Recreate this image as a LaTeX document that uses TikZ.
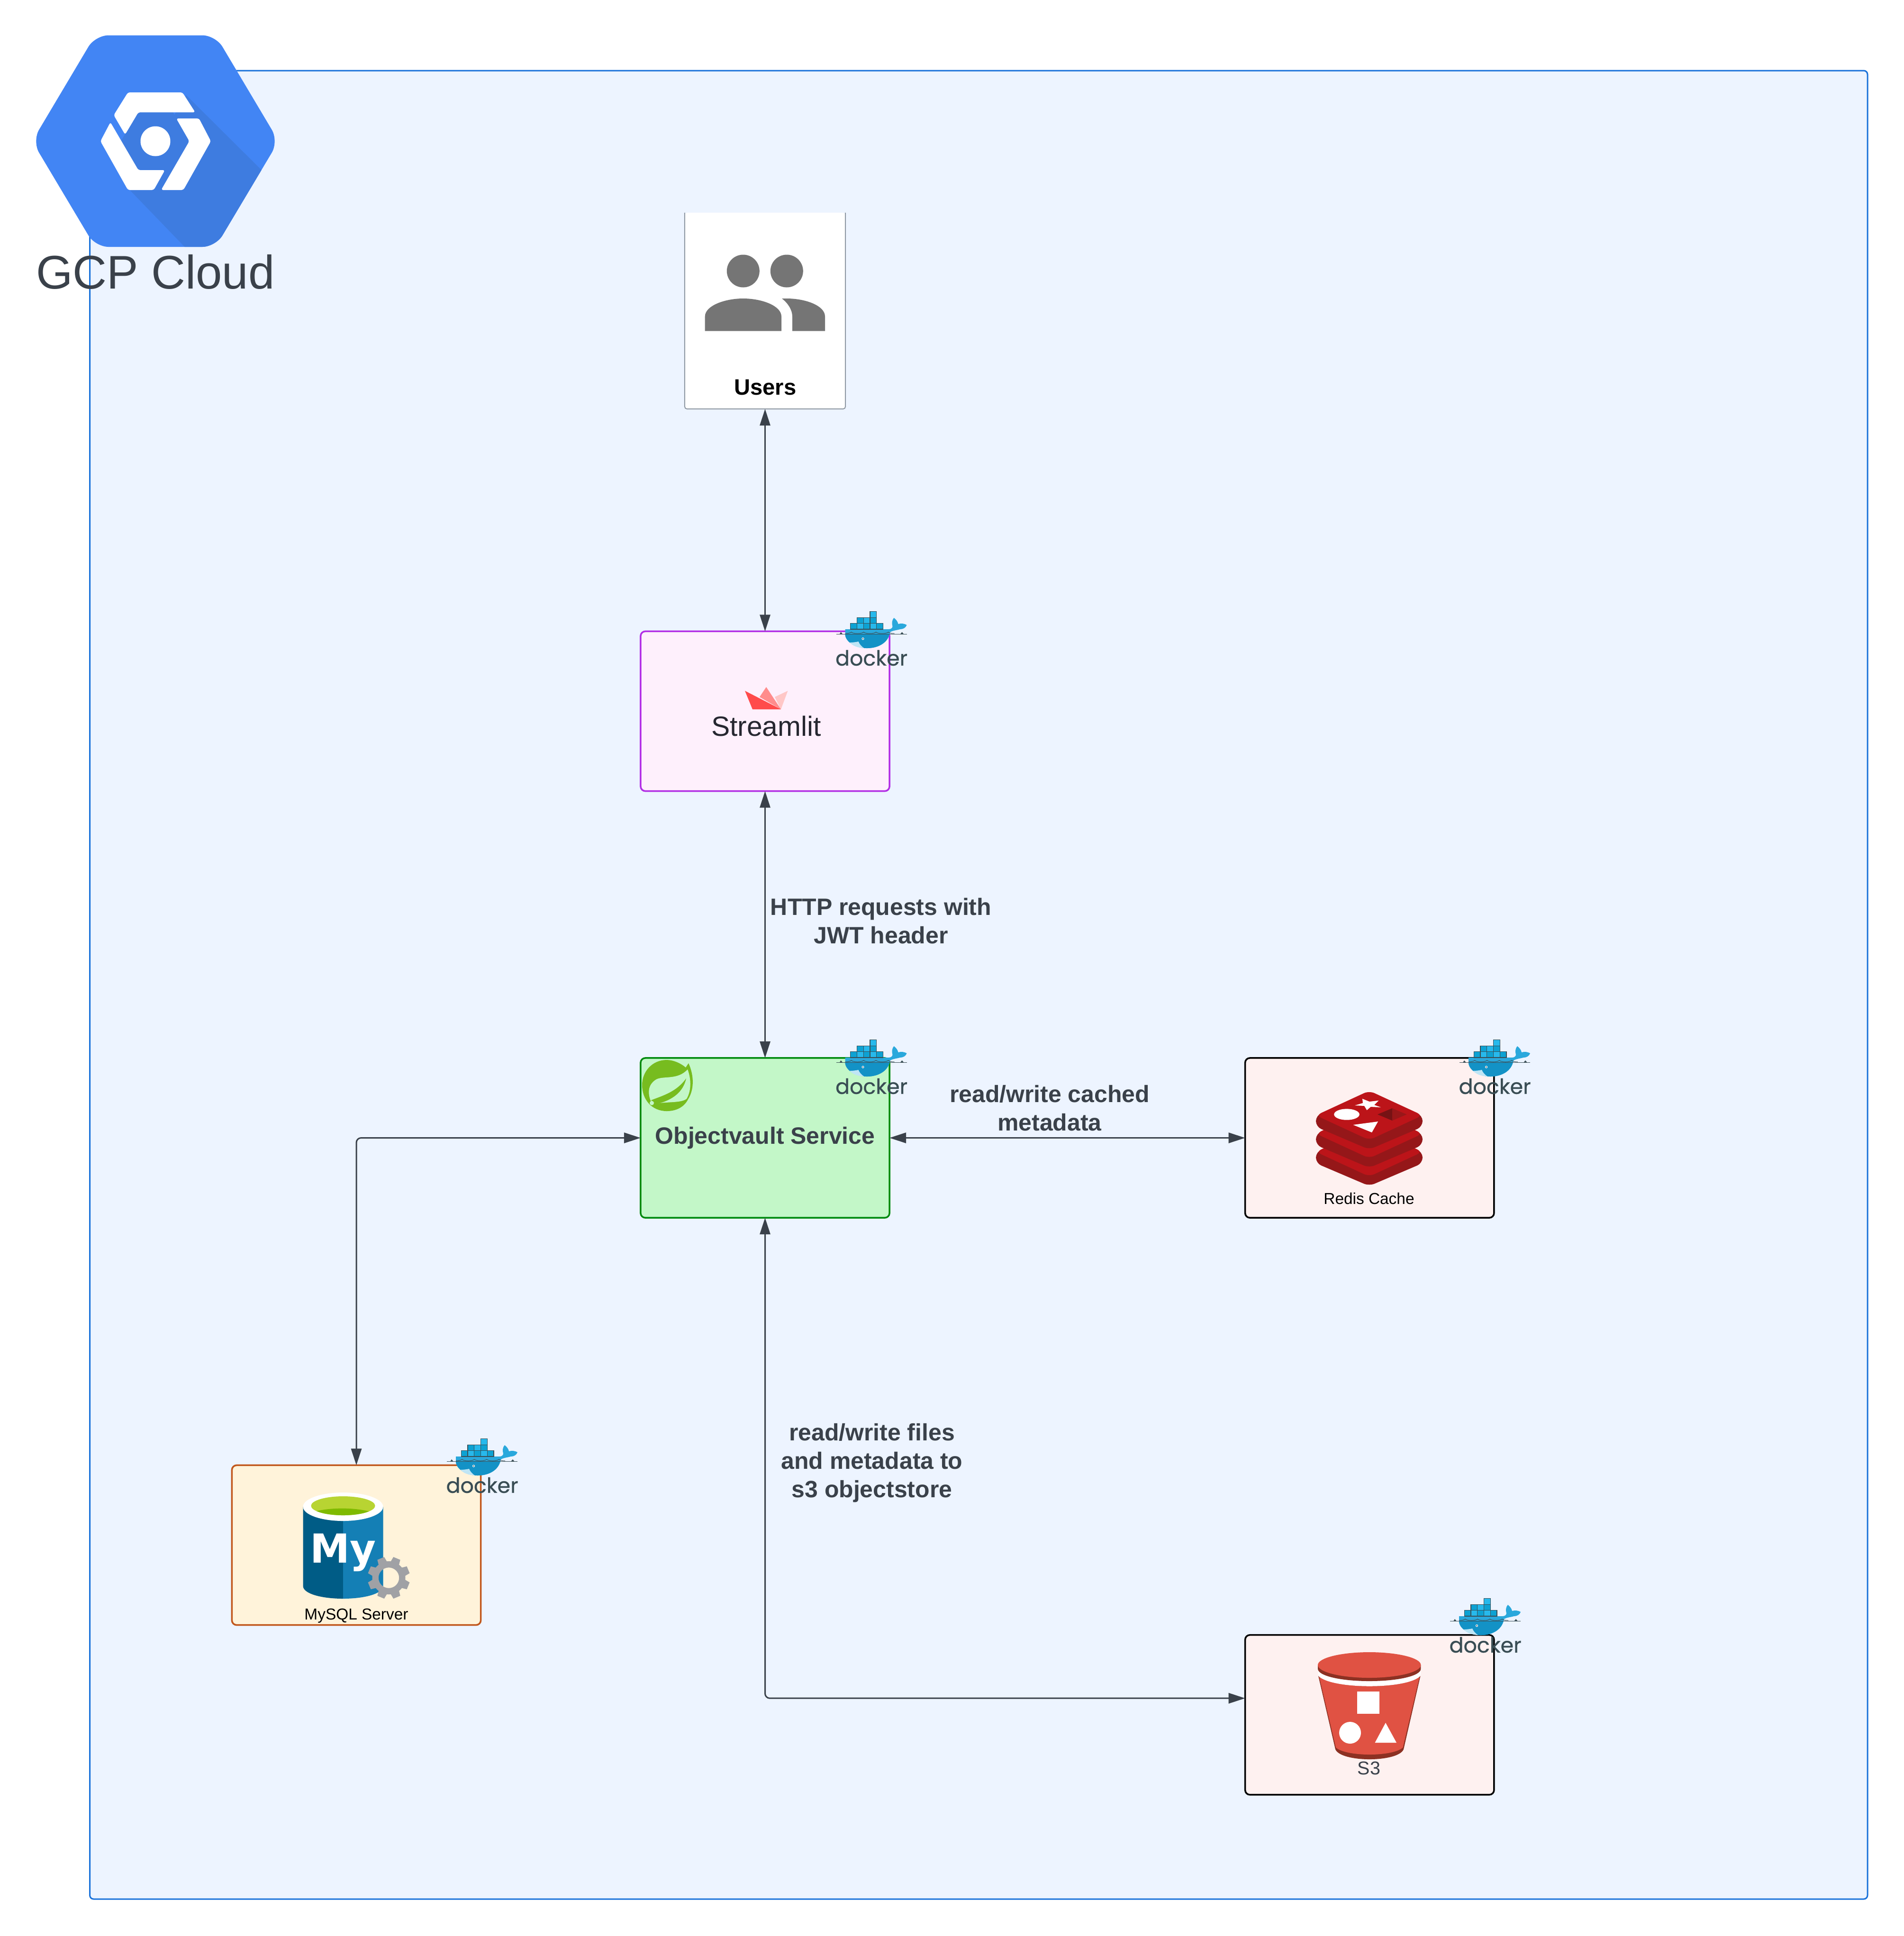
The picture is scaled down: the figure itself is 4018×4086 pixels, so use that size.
\documentclass[tikz,border=0pt]{standalone}
\usepackage{fontspec}
\setmainfont{Liberation Sans}
\newfontfamily\dockerfont[FakeBold=0.6]{Poppins}
\newfontfamily\logofont{DejaVu Sans}
\usetikzlibrary{arrows.meta,positioning}

\definecolor{framefill}{HTML}{EDF4FF}
\definecolor{framedraw}{HTML}{1A72DA}
\definecolor{inkcol}{HTML}{3A414A}
\definecolor{gcpblue}{HTML}{4285F4}
\definecolor{gcpshade}{HTML}{3E7CE0}
\definecolor{dockdark}{HTML}{394D54}
\definecolor{dockcella}{HTML}{27B9EC}
\definecolor{dockcellb}{HTML}{0DA2D3}
\definecolor{dockhull}{HTML}{2AA8DC}
\definecolor{dockdeep}{HTML}{1392C6}
\definecolor{redislight}{HTML}{BC1419}
\definecolor{redisdark}{HTML}{951719}
\definecolor{bucketred}{HTML}{E05243}
\definecolor{bucketdark}{HTML}{8C3123}
\definecolor{usersgrey}{HTML}{757575}
\definecolor{usersedge}{HTML}{8F98A3}
\definecolor{streamdraw}{HTML}{B22FE5}
\definecolor{streamfill}{HTML}{FEF0FC}
\definecolor{streamred}{HTML}{FF4B4B}
\definecolor{streammid}{HTML}{FF8C8C}
\definecolor{streampale}{HTML}{FFC7C7}
\definecolor{streamtext}{HTML}{262730}
\definecolor{servicedraw}{HTML}{008A0E}
\definecolor{servicefill}{HTML}{C3F7C8}
\definecolor{springgreen}{HTML}{77BC1F}
\definecolor{pinkfill}{HTML}{FEF1F0}
\definecolor{mysqldraw}{HTML}{C1571C}
\definecolor{mysqlfill}{HTML}{FFF3DA}
\definecolor{mysqlleft}{HTML}{005C86}
\definecolor{mysqlright}{HTML}{147FB5}
\definecolor{mysqllime}{HTML}{B8D432}
\definecolor{mysqlmoss}{HTML}{7FBA00}
\definecolor{gearcol}{HTML}{A0A1A5}

\newcommand{\hexpath}{(68,298) -- (201,74.5) -- (455,74.5) -- (588,298) -- (455,521) -- (201,521) -- cycle}

\tikzset{
  dockerlogo/.pic={
    % whale body
    \fill[dockhull] (0,0) -- (92,0) .. controls (97,0) and (100,-3) .. (100,-6)
      .. controls (98,-13) and (99,-20) .. (103,-24)
      .. controls (108,-20) and (111,-16) .. (112,-11)
      .. controls (118,-13) and (125,-12) .. (130,-9)
      .. controls (128,-3) and (122,0) .. (116,0)
      .. controls (110,2) and (102,2) .. (95,6)
      .. controls (92,26) and (72,40) .. (46,40)
      .. controls (20,40) and (0,25) .. (0,10) -- cycle;
    \fill[dockdeep] (0,10.7) -- (93,10.7) .. controls (90,27) and (72,40) .. (46,40)
      .. controls (20,40) and (0,25) .. (0,10.7) -- cycle;
    \fill[white!70!dockhull] (10,28) .. controls (16,28) and (24,27) .. (28,26)
      .. controls (30,31) and (34,36) .. (40,40) .. controls (26,39) and (16,35) .. (10,28) -- cycle;
    % containers
    \foreach \cx/\cy/\ccol in {0/0/dockcellb,1/0/dockcella,2/0/dockcellb,3/0/dockcella,4/0/dockcellb,
                               1/1/dockcellb,2/1/dockcella,3/1/dockcellb,3/2/dockcella}
      \draw[dockdark, line width=.012cm, fill=\ccol] ({11.2+13.76*\cx},{-12.4*\cy-12.4}) rectangle ++(13.76,12.4);
    % water
    \draw[dockdark, line width=.012cm] (-19,10.7) -- (130,10.7);
    \foreach \wx in {0,26,52,78}
      \draw[dockdark, line width=.01cm] (\wx,9) .. controls (\wx+6,9) and (\wx+11,8) .. (\wx+13,6)
        .. controls (\wx+15,8) and (\wx+20,9) .. (\wx+26,9);
    \fill[dockdark] (-12,10.7) -- (-9,6) -- (-5,10.7) -- cycle (116,10.7) -- (120,6) -- (124,10.7) -- cycle;
    \fill[white] (37.5,20) circle[radius=2.6];
    \fill[dockdark] (37.5,20) circle[radius=1.4];
    \node[dockword] (-word) at (55.6,76.7) {docker};
  },
  dockword/.style={anchor=base, inner sep=0pt, text=dockdark,
                   font=\dockerfont\fontsize{12.6}{15}\selectfont},
}

\begin{document}
\begin{tikzpicture}[
    x=.01cm, y=-.01cm,
    >={Triangle[length=.35cm,width=.22cm]},
    box/.style={draw, rounded corners=.1cm, line width=.035cm, outer sep=0pt, inner sep=0pt,
                minimum width=5.25cm, minimum height=3.37cm},
    arrow/.style={<->, draw=inkcol, line width=.03cm},
    flowlabel/.style={align=center, text=inkcol, inner sep=0pt,
                      font=\bfseries\fontsize{14.2}{17.07}\selectfont},
    caption/.style={anchor=base, inner sep=0pt},
  ]

  \useasboundingbox (0,0) rectangle (4018,4086);

  \draw[framedraw, fill=framefill, line width=.03cm, rounded corners=.08cm]
    (189.5,149) rectangle (3941,4008);

  % boxes
  \node[fill=white, outer sep=0pt, inner sep=0pt, minimum width=3.39cm, minimum height=4.14cm,
        rounded corners=.05cm] (users) at (1614.5,656) {};
  \draw[usersedge, line width=.02cm, rounded corners=.05cm]
    (users.north west) -- (users.south west) -- (users.south east) -- (users.north east);

  \node[box, draw=streamdraw, fill=streamfill, below=4.69cm of users] (streamlit) {};

  \node[box, draw=servicedraw, fill=servicefill, text=inkcol,
        font=\bfseries\fontsize{14.2}{17}\selectfont,
        below=5.63cm of streamlit] (service) {Objectvault Service};

  \node[box, draw=black, fill=pinkfill, right=7.5cm of service] (redis) {};

  \node[box, draw=black, fill=pinkfill, below=8.8cm of redis] (s3) {};

  \node[box, draw=mysqldraw, fill=mysqlfill] (mysql) at (752,3261) {};

  % connectors
  \draw[arrow] (users) -- (streamlit);
  \draw[arrow] (streamlit) -- (service);
  \draw[arrow] (service) -- (redis);
  \draw[arrow, rounded corners=.1cm] (mysql.north) |- (service.west);
  \draw[arrow, rounded corners=.1cm] (service.south) |- ([yshift=.35cm]s3.west);

  \node[flowlabel] (httplabel) at (1859,1944) {HTTP requests with\\JWT header};
  \node[flowlabel] (cachelabel) at (2215,2339) {read/write cached\\metadata};
  \node[flowlabel] (fileslabel) at (1840,3088) {read/write files\\and metadata to\\s3 objectstore};

  % gcp logo
  \fill[gcpblue, rounded corners=.28cm] \hexpath;
  \begin{scope}
    \clip[rounded corners=.28cm] \hexpath;
    \fill[gcpshade] (393,201) -- (553,360) -- (600,600) -- (466,600) -- (273,400) -- cycle;
  \end{scope}
  \fill[gcpshade] (292,237) -- (365,237) -- (399.5,298) -- (365,359) -- (292,359) -- (255,298) -- cycle;
  \fill[white, rounded corners=.04cm] (240,243) -- (270,195) -- (385,195) -- (412,237) -- (292,237) -- (264,284) -- cycle;
  \fill[white, rounded corners=.04cm] (233,258) -- (292,359) -- (348,359) -- (324.5,401) -- (270,401) -- (212,298) -- cycle;
  \fill[white, rounded corners=.04cm] (372,250) -- (420,250) -- (445,298) -- (387,401) -- (340,401) -- (399.5,298) -- cycle;
  \fill[white] (328,298) circle[radius=31.5];
  \node[caption, text=inkcol, font=\fontsize{28.3}{33}\selectfont] (gcptext) at (328,609) {GCP Cloud};

  % users icon
  \fill[usersgrey] (1568.3,572) circle[radius=34.5] (1660.3,572) circle[radius=34.5];
  \fill[usersgrey] (1487.7,698.7) -- (1487.7,668) .. controls (1487.7,645) and (1530,630) .. (1568.3,630)
    .. controls (1607,630) and (1649,645) .. (1649,668) -- (1649,698.7) -- cycle;
  \fill[usersgrey] (1650,630) -- (1660,630) .. controls (1700,630) and (1741,645) .. (1741,668)
    -- (1741,698.7) -- (1672,698.7) -- (1672,668) .. controls (1672,654) and (1663,640) .. (1650,630) -- cycle;
  \node[caption, font=\bfseries\fontsize{13.4}{16}\selectfont] (userstext) at (1615,833) {Users};

  % streamlit icon
  \fill[streampale] (1662.5,1458) -- (1648,1497) -- (1635,1471) -- cycle;
  \fill[streammid] (1617,1450) -- (1648,1497) -- (1603,1471) -- cycle;
  \fill[streamred] (1572,1458) -- (1648,1497) -- (1588,1497) -- cycle;
  \node[caption, text=streamtext, font=\fontsize{16.7}{20}\selectfont] (streamlittext) at (1617,1553) {Streamlit};

  % spring leaf
  \fill[springgreen] (1453,2244) .. controls (1465,2270) and (1465,2300) .. (1452,2320)
    .. controls (1443,2338) and (1425,2345) .. (1407,2345) .. controls (1375,2345) and (1355,2320) .. (1355,2290)
    .. controls (1355,2262) and (1376,2237) .. (1407,2237) .. controls (1422,2237) and (1438,2245) .. (1447,2253) -- cycle;
  \fill[servicefill] (1451,2257) .. controls (1458,2275) and (1460,2300) .. (1449,2319)
    .. controls (1438,2328) and (1410,2325) .. (1385,2329) -- (1373,2323)
    .. controls (1368,2310) and (1365,2290) .. (1385,2278) .. controls (1400,2270) and (1430,2280) .. (1451,2257) -- cycle;
  \fill[springgreen] (1448,2276) .. controls (1428,2304) and (1400,2312) .. (1374,2322)
    -- (1385,2330) .. controls (1420,2322) and (1442,2304) .. (1448,2276) -- cycle;
  \fill[servicefill] (1375.5,2328) circle[radius=4.5];

  % redis icon
  \foreach \dy in {77,38.5,0} {
    \fill[redisdark, rounded corners=.12cm] (2777,2354+\dy) -- (2777,2378+\dy) -- (2889.5,2426+\dy) -- (3002,2378+\dy)
      -- (3002,2354+\dy) -- (2889.5,2310+\dy) -- cycle;
    \fill[redislight, rounded corners=.12cm] (2777,2354+\dy) -- (2889.5,2302+\dy) -- (3002,2354+\dy) -- (2889.5,2406+\dy) -- cycle;
  }
  \fill[white] (2875,2319) -- (2890,2325) -- (2909.5,2322.7) -- (2900,2332) -- (2914,2337) -- (2892.6,2336)
    -- (2884.5,2343) -- (2879,2334) -- (2859,2333) -- (2876,2328) -- cycle;
  \fill[white] (2842,2352) ellipse[x radius=26.8, y radius=11.7];
  \fill[white] (2855.5,2374) -- (2908,2367) -- (2895,2390) -- cycle;
  \fill[redisdark!80!black] (2907,2352) -- (2938,2339) -- (2938,2365) -- cycle;
  \fill[redisdark!90!redislight] (2968.5,2352) -- (2938,2339) -- (2938,2365) -- cycle;
  \node[caption, font=\fontsize{9.5}{11}\selectfont] (redistext) at (2889,2541) {Redis Cache};

  % mysql icon
  \fill[mysqlleft] (639.5,3180) -- (639.5,3347) .. controls (639.5,3364) and (680,3374) .. (724,3374) -- (724,3180) -- cycle;
  \fill[mysqlright] (808.5,3180) -- (808.5,3347) .. controls (808.5,3364) and (768,3374) .. (724,3374) -- (724,3180) -- cycle;
  \fill[white] (724,3180) ellipse[x radius=84.5, y radius=30];
  \begin{scope}
    \clip (724,3178) ellipse[x radius=67.6, y radius=20];
    \fill[mysqllime] (650,3150) rectangle (800,3200);
    \fill[mysqlmoss] (665,3190) .. controls (690,3183) and (740,3180) .. (780,3190) -- (780,3205) -- (665,3205) -- cycle;
  \end{scope}
  \node[caption, text=white, font=\logofont\bfseries\fontsize{24}{28}\selectfont] (mysqlmark) at (724,3298) {My};
  \begin{scope}[shift={(820.5,3330)}]
    \fill[gearcol, even odd rule] (0,0) circle[radius=35] (0,0) circle[radius=21.7];
    \foreach \a in {22.5,67.5,...,337.5}
      \fill[gearcol] (\a-17:33) -- (\a-10:45) -- (\a+10:45) -- (\a+17:33) -- cycle;
  \end{scope}
  \node[caption, font=\fontsize{9.5}{11}\selectfont] (mysqltext) at (752,3418) {MySQL Server};

  % s3 icon
  \fill[bucketdark] (2782,3537) -- (2818,3692) .. controls (2830,3720) and (2950,3720) .. (2962,3692) -- (2997.5,3537) -- cycle;
  \fill[bucketred] (2783.5,3537) -- (2819,3688) .. controls (2840,3708) and (2940,3708) .. (2960.5,3688) -- (2996,3537)
    .. controls (2970,3566) and (2810,3566) .. (2783.5,3537) -- cycle;
  \fill[white] (2781,3520) -- (2782,3537) .. controls (2810,3566) and (2970,3566) .. (2997.5,3537) -- (2998.4,3520) -- cycle;
  \fill[bucketdark] (2781,3514) -- (2781,3522) .. controls (2781,3537) and (2830,3548) .. (2889.7,3548)
    .. controls (2950,3548) and (2998.4,3537) .. (2998.4,3522) -- (2998.4,3514) -- cycle;
  \fill[bucketred] (2889.7,3514) ellipse[x radius=108.7, y radius=27];
  \fill[white] (2864,3570) rectangle (2911,3617);
  \fill[white] (2849,3657) circle[radius=23];
  \fill[white] (2901.5,3678) -- (2947,3678) -- (2924,3636) -- cycle;
  \node[caption, text=inkcol, font=\fontsize{11.2}{13}\selectfont] (s3text) at (2889,3745) {S3};

  % docker marks
  \pic (dockstreamlit) at (1783.5,1328) {dockerlogo};
  \pic (dockservice) at (1783.5,2232) {dockerlogo};
  \pic (dockredis) at (3099,2232) {dockerlogo};
  \pic (dockmysql) at (962,3074) {dockerlogo};
  \pic (docks3) at (3079,3411) {dockerlogo};

\end{tikzpicture}
\end{document}
